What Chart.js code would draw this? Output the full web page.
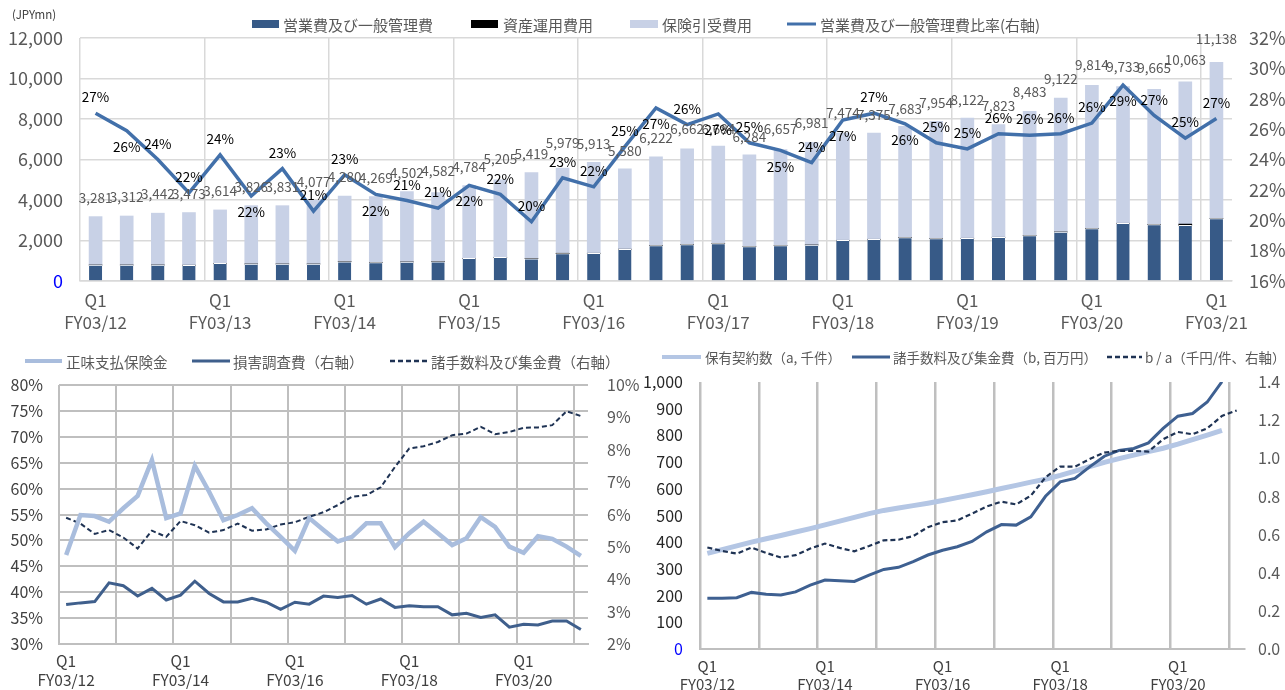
<!DOCTYPE html>
<html><head><meta charset="utf-8">
<script src="https://cdn.jsdelivr.net/npm/chart.js@4.4.1/dist/chart.umd.min.js"></script>
<style>
html,body{margin:0;padding:0;background:#fff;}
#wrap{position:relative;width:1285px;height:690px;overflow:hidden;background:#fff;}
canvas{position:absolute;}
</style></head><body>
<div id="wrap">
<canvas id="c1" width="1285" height="340" style="left:0;top:0"></canvas>
<canvas id="c2" width="640" height="350" style="left:0;top:340px"></canvas>
<canvas id="c3" width="645" height="350" style="left:640px;top:340px"></canvas>
</div>
<script>
// ---------- DATA ----------
const fiscalYears = ['FY03/12','FY03/13','FY03/14','FY03/15','FY03/16','FY03/17','FY03/18','FY03/19','FY03/20','FY03/21'];
const quarterNames = ['Q1','Q2','Q3','Q4'];
const categories = [];
fiscalYears.forEach(fy => quarterNames.forEach(q => categories.push(q + ' ' + fy)));
categories.length = 37; // Q1 FY03/12 .. Q1 FY03/21
const bottomTickYears = ['FY03/12','FY03/14','FY03/16','FY03/18','FY03/20'];

// top chart (JPYmn)
const sgaExpense = [790,790,790,780,870,840,840,840,950,910,940,950,1120,1170,1100,1350,1370,1570,1750,1800,1850,1700,1750,1780,2010,2060,2140,2090,2110,2160,2240,2420,2590,2850,2790,2750,3080];
const investExpense = [0,0,0,0,0,0,0,0,0,0,0,0,0,0,0,20,0,0,0,0,0,0,0,0,0,0,0,0,0,0,0,0,0,0,0,60,0];
const underwritingExpense = [2390,2420,2560,2600,2640,2880,2880,3140,3240,3260,3480,3420,3590,3830,4260,4210,4490,3970,4380,4730,4810,4530,4740,5070,5290,5250,5500,5800,5940,5560,6140,6610,7070,6750,6670,7020,7720];
const totalLabels = [3281,3312,3442,3473,3614,3826,3831,4077,4280,4269,4502,4582,4784,5205,5419,5979,5913,5580,6222,6662,6684,6284,6657,6981,7474,7375,7683,7954,8122,7823,8483,9122,9814,9733,9665,10063,11138];
const sgaRatio = [27.05,25.9,24.0,21.8,24.3,21.6,23.4,20.6,23.0,21.7,21.3,20.8,22.3,21.7,19.9,22.8,22.2,24.85,27.4,26.3,27.0,25.1,24.6,23.8,26.6,27.05,26.35,25.1,24.7,25.7,25.6,25.7,26.4,28.9,26.9,25.4,26.7];

// bottom-left chart (%)
const netClaimsRatio = [47.2,54.9,54.7,53.6,56.2,58.6,65.5,54.3,55.2,64.4,59.4,53.9,54.9,56.2,53.3,50.7,48.0,54.3,52.0,49.8,50.7,53.3,53.3,48.7,51.4,53.6,51.4,49.1,50.4,54.5,52.6,48.8,47.6,50.8,50.3,48.8,47.0];
const lossAdjRatio = [3.22,3.27,3.31,3.89,3.80,3.48,3.72,3.36,3.51,3.94,3.56,3.30,3.30,3.41,3.29,3.07,3.29,3.23,3.48,3.44,3.50,3.23,3.39,3.13,3.18,3.15,3.15,2.90,2.95,2.82,2.90,2.52,2.61,2.59,2.71,2.71,2.45];
const commissionRatio = [5.90,5.72,5.40,5.52,5.29,4.95,5.50,5.31,5.80,5.67,5.44,5.52,5.72,5.50,5.54,5.69,5.76,5.93,6.07,6.29,6.55,6.60,6.84,7.47,8.04,8.11,8.24,8.45,8.50,8.71,8.48,8.55,8.68,8.69,8.76,9.19,9.04];

// bottom-right chart
const policiesInForce = [358,372,386,400,413,425,438,451,465,479,493,507,519,528,537,546,556,567,578,589,601,613,625,636,650,666,683,699,713,726,739,752,767,784,801,819];
const commissionAmount = [190,190,192,212,205,202,214,239,258,256,253,277,298,306,327,352,370,383,403,439,466,464,495,572,626,639,682,722,744,751,772,826,872,882,925,1001];
const commissionPerPolicy = [0.532,0.514,0.500,0.532,0.504,0.480,0.492,0.527,0.553,0.530,0.512,0.540,0.570,0.573,0.592,0.639,0.665,0.674,0.710,0.747,0.773,0.758,0.804,0.900,0.957,0.956,0.996,1.030,1.039,1.039,1.035,1.100,1.138,1.126,1.157,1.222,1.251];

// ---------- STYLE ----------
const FONT = '"Noto Sans CJK JP", "Noto Sans", sans-serif';
Chart.defaults.font.family = FONT;
Chart.defaults.animation = false;
const C = {
  dark: '#375a87', black: '#000000', light: '#c8d1e6', ratio: '#4270aa',
  blLight: '#a9bddd', blDark: '#3f5f8c', navy: '#1f3354',
  brLight: '#b4c6e4', brDark: '#3e6091',
  grid1: '#d9d9d9', grid2: '#bfbfbf', text: '#595959'
};
const ratioBelow = new Set([1,5,9,12,18,20,22,24,26,33]);

function makeLegend(id, cfg) {
  return { id, afterDraw(chart) {
    const ctx = chart.ctx; ctx.save();
    ctx.font = cfg.font; ctx.textBaseline = 'middle'; ctx.textAlign = 'left';
    cfg.items.forEach(it => {
      if (it.type === 'rect') {
        ctx.fillStyle = it.color; ctx.fillRect(it.x0, cfg.y - it.h / 2, it.x1 - it.x0, it.h);
      } else {
        ctx.strokeStyle = it.color; ctx.lineWidth = it.w; ctx.setLineDash(it.dash || []);
        ctx.beginPath(); ctx.moveTo(it.x0, cfg.y); ctx.lineTo(it.x1, cfg.y); ctx.stroke(); ctx.setLineDash([]);
      }
      ctx.fillStyle = cfg.color; ctx.fillText(it.text, it.tx, cfg.y + 1);
    });
    ctx.restore();
  }};
}
function topTick(v, i) { const c = categories[i]; return c.startsWith('Q1') ? ['Q1', c.split(' ')[1]] : ''; }
function bottomTick(v, i) { const c = categories[i]; const p = c.split(' '); return (p[0] === 'Q1' && bottomTickYears.includes(p[1])) ? ['Q1', p[1]] : ''; }

// ---------- TOP CHART ----------
const topLabels = {
  id: 'topLabels',
  afterDatasetsDraw(chart) {
    const ctx = chart.ctx, x = chart.scales.x, y = chart.scales.y, y1 = chart.scales.y1;
    ctx.save(); ctx.textAlign = 'center'; ctx.textBaseline = 'middle';
    ctx.font = '13.5px ' + FONT; ctx.fillStyle = C.text;
    totalLabels.forEach((t, i) => ctx.fillText(t.toLocaleString('en-US'), x.getPixelForValue(i), y.getPixelForValue(t) - 17));
    ctx.fillStyle = '#000000';
    sgaRatio.forEach((r, i) => ctx.fillText(Math.round(r) + '%', x.getPixelForValue(i), y1.getPixelForValue(r) + (ratioBelow.has(i) ? 16 : -16)));
    ctx.font = '11.5px ' + FONT; ctx.fillStyle = '#404040'; ctx.textAlign = 'left';
    ctx.fillText('(JPYmn)', 12, 15);
    ctx.restore();
  }
};
new Chart(document.getElementById('c1'), {
  type: 'bar',
  data: {
    labels: categories,
    datasets: [
      { type: 'line', label: '営業費及び一般管理費比率(右軸)', data: sgaRatio, yAxisID: 'y1', borderColor: C.ratio, borderWidth: 3.5, pointRadius: 0, tension: 0, order: 0 },
      { label: '営業費及び一般管理費', data: sgaExpense, backgroundColor: C.dark, borderColor: '#ffffff', borderWidth: { top: 1, left: 0, right: 0, bottom: 0 }, barThickness: 13, order: 1 },
      { label: '資産運用費用', data: investExpense, backgroundColor: C.black, barThickness: 13, order: 1 },
      { label: '保険引受費用', data: underwritingExpense, backgroundColor: C.light, barThickness: 13, order: 1 }
    ]
  },
  options: {
    responsive: false, animation: false,
    layout: { padding: { top: 38, left: 0, right: 0, bottom: 0 } },
    plugins: { legend: { display: false }, tooltip: { enabled: false } },
    scales: {
      x: { stacked: true, offset: true,
        grid: { offset: true, drawTicks: false, lineWidth: 1.5, color: c => (c.index % 4 === 0 ? C.grid1 : 'rgba(0,0,0,0)') },
        border: { color: C.grid1, width: 1.5 },
        ticks: { autoSkip: false, maxRotation: 0, minRotation: 0, padding: 8, color: C.text, font: { size: 17, lineHeight: 1.3 }, callback: topTick },
        afterFit: s => { s.height = 59; } },
      y: { stacked: true, min: 0, max: 12000, position: 'left',
        grid: { drawTicks: false, lineWidth: 1.5, color: C.grid1 }, border: { display: false },
        ticks: { stepSize: 2000, padding: 17, font: { size: 18 }, color: c => (c.tick.value === 0 ? '#0000ff' : C.text), callback: v => v.toLocaleString('en-US') },
        afterFit: s => { s.width = 80; } },
      y1: { min: 16, max: 32, position: 'right',
        grid: { display: false, drawTicks: false }, border: { display: false },
        ticks: { stepSize: 2, padding: 17, font: { size: 18 }, color: C.text, callback: v => v + '%' },
        afterFit: s => { s.width = 53; } }
    }
  },
  plugins: [topLabels, makeLegend('lg1', { y: 24, font: '15px ' + FONT, color: C.text, items: [
    { type: 'rect', color: C.dark, x0: 252, x1: 279, h: 8, tx: 283, text: '営業費及び一般管理費' },
    { type: 'rect', color: C.black, x0: 471, x1: 498, h: 8, tx: 503, text: '資産運用費用' },
    { type: 'rect', color: C.light, x0: 630, x1: 658, h: 8, tx: 662, text: '保険引受費用' },
    { type: 'line', color: C.ratio, x0: 787, x1: 816, w: 3, tx: 820, text: '営業費及び一般管理費比率(右軸)' }
  ]})]
});

// ---------- BOTTOM-LEFT CHART ----------
new Chart(document.getElementById('c2'), {
  type: 'line',
  data: {
    labels: categories,
    datasets: [
      { label: '正味支払保険金', data: netClaimsRatio, yAxisID: 'y', borderColor: C.blLight, borderWidth: 4.5, order: 1 },
      { label: '損害調査費（右軸）', data: lossAdjRatio, yAxisID: 'y1', borderColor: C.blDark, borderWidth: 3, order: 2 },
      { label: '諸手数料及び集金費（右軸）', data: commissionRatio, yAxisID: 'y1', borderColor: C.navy, borderWidth: 2, borderDash: [5, 3], order: 3 }
    ]
  },
  options: {
    responsive: false, animation: false,
    elements: { point: { radius: 0 }, line: { tension: 0 } },
    layout: { padding: { top: 45, left: 0, right: 0, bottom: 0 } },
    plugins: { legend: { display: false }, tooltip: { enabled: false } },
    scales: {
      x: { offset: true,
        grid: { offset: true, drawTicks: false, lineWidth: 2, color: c => (c.index % 4 === 0 ? C.grid2 : 'rgba(0,0,0,0)') },
        border: { color: C.grid2, width: 2 },
        ticks: { autoSkip: false, maxRotation: 0, minRotation: 0, padding: 7, color: '#404040', font: { size: 15.5, lineHeight: 1.25 }, callback: bottomTick },
        afterFit: s => { s.height = 46; } },
      y: { min: 30, max: 80, position: 'left',
        grid: { drawTicks: false, lineWidth: 2, color: C.grid2 }, border: { display: false },
        ticks: { stepSize: 5, padding: 16, font: { size: 16 }, color: '#404040', callback: v => v + '%' },
        afterFit: s => { s.width = 59; } },
      y1: { min: 2, max: 10, position: 'right',
        grid: { display: false, drawTicks: false }, border: { display: false },
        ticks: { stepSize: 1, padding: 19, font: { size: 16 }, color: C.text, callback: v => v + '%' },
        afterFit: s => { s.width = 52; } }
    }
  },
  plugins: [makeLegend('lg2', { y: 21, font: '14.5px ' + FONT, color: C.text, items: [
    { type: 'line', color: C.blLight, x0: 25, x1: 62, w: 4, tx: 66, text: '正味支払保険金' },
    { type: 'line', color: C.blDark, x0: 192, x1: 230, w: 3, tx: 233, text: '損害調査費（右軸）' },
    { type: 'line', color: C.navy, x0: 390, x1: 428, w: 2.5, dash: [5, 3], tx: 431, text: '諸手数料及び集金費（右軸）' }
  ]})]
});

// ---------- BOTTOM-RIGHT CHART ----------
new Chart(document.getElementById('c3'), {
  type: 'line',
  data: {
    labels: categories,
    datasets: [
      { label: '保有契約数（a, 千件）', data: policiesInForce, yAxisID: 'y', borderColor: C.brLight, borderWidth: 5, order: 3 },
      { label: '諸手数料及び集金費（b, 百万円）', data: commissionAmount, yAxisID: 'y', borderColor: C.brDark, borderWidth: 3, order: 2 },
      { label: 'b / a（千円/件、右軸）', data: commissionPerPolicy, yAxisID: 'y1', borderColor: C.navy, borderWidth: 2.2, borderDash: [5, 3], order: 1 }
    ]
  },
  options: {
    responsive: false, animation: false,
    elements: { point: { radius: 0 }, line: { tension: 0 } },
    layout: { padding: { top: 42, left: 0, right: 0, bottom: 0 } },
    plugins: { legend: { display: false }, tooltip: { enabled: false } },
    scales: {
      x: { offset: true,
        grid: { offset: true, drawTicks: false, lineWidth: 2.5, color: c => (c.index % 4 === 0 ? C.grid2 : 'rgba(0,0,0,0)') },
        border: { color: C.grid2, width: 2 },
        ticks: { autoSkip: false, maxRotation: 0, minRotation: 0, padding: 8, color: '#404040', font: { size: 15, lineHeight: 1.2 }, callback: bottomTick },
        afterFit: s => { s.height = 41; } },
      y: { min: 0, max: 1000, position: 'left',
        grid: { display: false, drawTicks: false }, border: { display: false },
        ticks: { stepSize: 100, padding: 17, font: { size: 16 }, color: c => (c.tick.value === 0 ? '#0000ff' : '#262626'), callback: v => v.toLocaleString('en-US') },
        afterFit: s => { s.width = 60; } },
      y1: { min: 0, max: 1.4, position: 'right',
        grid: { display: false, drawTicks: false }, border: { display: false },
        ticks: { stepSize: 0.2, padding: 14, font: { size: 16 }, color: C.text, callback: v => v.toFixed(1) },
        afterFit: s => { s.width = 41; } }
    }
  },
  plugins: [makeLegend('lg3', { y: 17, font: '13.5px ' + FONT, color: C.text, items: [
    { type: 'line', color: C.brLight, x0: 22, x1: 61, w: 4, tx: 65, text: '保有契約数（a, 千件）' },
    { type: 'line', color: C.brDark, x0: 212, x1: 250, w: 3, tx: 253, text: '諸手数料及び集金費（b, 百万円）' },
    { type: 'line', color: C.navy, x0: 467, x1: 502, w: 2.5, dash: [5, 3], tx: 505, text: 'b / a（千円/件、右軸）' }
  ]})]
});
</script>
</body></html>
